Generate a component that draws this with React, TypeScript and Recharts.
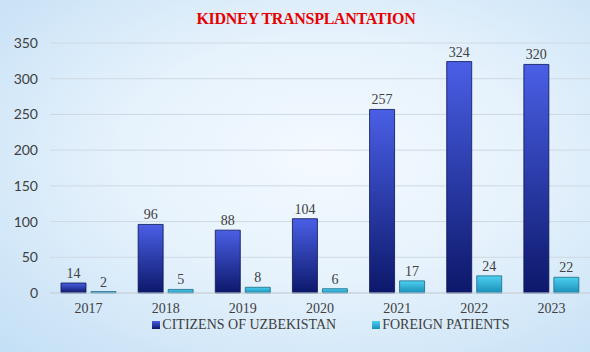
import { Bar, BarChart, CartesianGrid, LabelList, XAxis, YAxis } from 'recharts'

const years = ['2017', '2018', '2019', '2020', '2021', '2022', '2023']
const citizens = [14, 96, 88, 104, 257, 324, 320]
const foreign = [2, 5, 8, 6, 17, 24, 22]
const yTicks = [0, 50, 100, 150, 200, 250, 300, 350]

const chartData = years.map((year, i) => ({
  year,
  citizens: citizens[i],
  foreign: foreign[i],
}))

const serif = '"Liberation Serif", "Times New Roman", serif'

const legendItems = [
  { label: 'CITIZENS OF UZBEKISTAN', color: 'linear-gradient(#4a5fe6, #0c186a)' },
  { label: 'FOREIGN PATIENTS', color: 'linear-gradient(#4cd0f0, #1a8fb8)' },
]

function ValueLabel(props: any) {
  const { x, y, width, value } = props
  return (
    <text x={x + width / 2} y={y - 5} textAnchor='middle' fill='#404040' fontSize={14} fontFamily={serif}>
      {value}
    </text>
  )
}

export default function App() {
  return (
    <div
      style={{
        position: 'absolute',
        left: 0,
        top: 0,
        width: 590,
        height: 352,
        background: 'radial-gradient(ellipse at 55% 45%, #f4faff 0%, #e6f2fc 45%, #c3dff5 100%)',
      }}
    >
      <div
        style={{
          position: 'absolute',
          top: 10,
          left: 0,
          width: 612,
          textAlign: 'center',
          fontFamily: serif,
          fontWeight: 'bold',
          fontSize: 16,
          letterSpacing: -0.3,
          color: '#e60000',
        }}
      >
        KIDNEY TRANSPLANTATION
      </div>
      <BarChart
        width={590}
        height={352}
        data={chartData}
        margin={{ top: 43, right: 0, left: 0, bottom: 29 }}
        barSize={25}
        barGap={5}
      >
        <defs>
          <linearGradient id='citGrad' x1='0' y1='0' x2='0' y2='1'>
            <stop offset='0%' stopColor='#4a5fe6' />
            <stop offset='100%' stopColor='#0c186a' />
          </linearGradient>
          <linearGradient id='forGrad' x1='0' y1='0' x2='0' y2='1'>
            <stop offset='0%' stopColor='#4cd0f0' />
            <stop offset='100%' stopColor='#1a8fb8' />
          </linearGradient>
        </defs>
        <CartesianGrid vertical={false} stroke='#cfd9e3' />
        <XAxis
          dataKey='year'
          height={30}
          axisLine={{ stroke: '#c8d0d8' }}
          tickLine={false}
          tickSize={0}
          tickMargin={10}
          tick={{ fill: '#404040', fontSize: 14, fontFamily: serif }}
        />
        <YAxis
          width={50}
          domain={[0, 350]}
          ticks={yTicks}
          axisLine={false}
          tickLine={false}
          tickSize={0}
          tickMargin={12}
          tick={{ fill: '#404040', fontSize: 14, fontFamily: 'Lato, "Open Sans", sans-serif' }}
        />
        <Bar dataKey='citizens' fill='url(#citGrad)' stroke='#0a1450' strokeWidth={0.8} isAnimationActive={false}>
          <LabelList dataKey='citizens' content={ValueLabel} />
        </Bar>
        <Bar dataKey='foreign' fill='url(#forGrad)' stroke='#1a6a88' strokeWidth={0.8} isAnimationActive={false}>
          <LabelList dataKey='foreign' content={ValueLabel} />
        </Bar>
      </BarChart>
      <div
        style={{
          position: 'absolute',
          top: 317,
          left: 0,
          width: 662,
          display: 'flex',
          justifyContent: 'center',
          gap: 36,
          fontFamily: serif,
          fontSize: 14,
          color: '#404040',
        }}
      >
        {legendItems.map(item => (
          <div key={item.label} style={{ display: 'flex', alignItems: 'center' }}>
            <span style={{ width: 8, height: 8, background: item.color, marginRight: 2, display: 'inline-block' }} />
            <span>{item.label}</span>
          </div>
        ))}
      </div>
    </div>
  )
}
